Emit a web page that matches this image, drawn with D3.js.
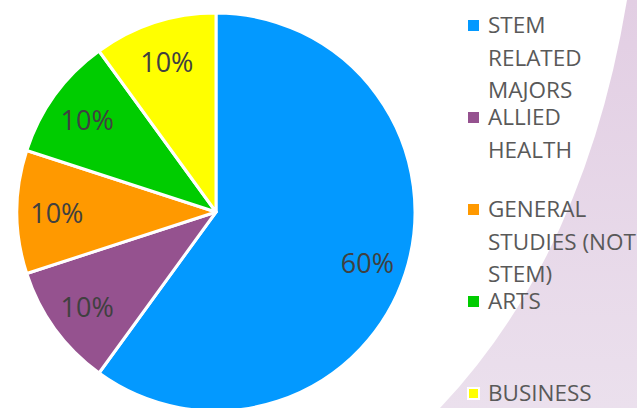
<!DOCTYPE html>
<html>
<head>
<meta charset="utf-8">
<script src="https://cdn.jsdelivr.net/npm/d3@7"></script>
<style>
  body { margin: 0; background: #fff; overflow: hidden; }
</style>
</head>
<body>
<script>
// data
var categories = ["STEM RELATED MAJORS", "ALLIED HEALTH", "GENERAL STUDIES (NOT STEM)", "ARTS", "BUSINESS"];
var values = [60, 10, 10, 10, 10];
var colours = ["#0399ff", "#95528f", "#ff9900", "#00cc00", "#ffff00"];
// legend lines as wrapped in the picture
var legendLines = [
    ["STEM", "RELATED", "MAJORS"],
    ["ALLIED", "HEALTH"],
    ["GENERAL", "STUDIES (NOT", "STEM)"],
    ["ARTS"],
    ["BUSINESS"]
];

var width = 637;
var height = 408;

var svg = d3.select("body")
    .append("svg")
    .attr("width", width)
    .attr("height", height);

// lavender backdrop swoosh
var grad = svg.append("defs").append("linearGradient")
    .attr("id", "bg")
    .attr("x1", 0).attr("y1", 0)
    .attr("x2", 0).attr("y2", 1);
grad.append("stop").attr("offset", "0%").attr("stop-color", "#e2cee3");
grad.append("stop").attr("offset", "100%").attr("stop-color", "#ebe0ed");

svg.append("path")
    .attr("d", "M627,0 Q585,255 440,408 L637,408 L637,0 Z")
    .attr("fill", "url(#bg)");

// pie
var cx = 216, cy = 212, radius = 199;

var pie = d3.pie().sort(null).value(function(d) { return d; });
var arcs = pie(values);

var arc = d3.arc().innerRadius(0).outerRadius(radius);
var labelArc = d3.arc().innerRadius(radius * 0.8).outerRadius(radius * 0.8);

var g = svg.append("g")
    .attr("transform", "translate(" + cx + "," + cy + ")");

g.selectAll(".slice")
    .data(arcs)
    .enter()
    .append("path")
    .attr("class", "slice")
    .attr("d", arc)
    .attr("fill", function(d, i) { return colours[i]; })
    .attr("stroke", "#fff")
    .attr("stroke-width", 3)
    .attr("stroke-linejoin", "round");

var total = d3.sum(values);

g.selectAll(".label")
    .data(arcs)
    .enter()
    .append("text")
    .attr("class", "label")
    .attr("transform", function(d) { return "translate(" + labelArc.centroid(d) + ")"; })
    .attr("text-anchor", "middle")
    .attr("dy", "0.42em")
    .style("font-family", "'Open Sans', sans-serif")
    .style("font-size", "27px")
    .style("fill", "#404040")
    .text(function(d) { return Math.round(d.value / total * 100) + "%"; });

// legend
var legend = svg.selectAll(".legend")
    .data(categories)
    .enter()
    .append("g")
    .attr("class", "legend")
    .attr("transform", function(d, i) { return "translate(468," + (25 + i * 92) + ")"; });

legend.append("rect")
    .attr("x", 0)
    .attr("y", -5)
    .attr("width", 11)
    .attr("height", 11)
    .attr("fill", function(d, i) { return colours[i]; })
    .attr("stroke", function(d, i) { return i === 4 ? "#fff" : "none"; })
    .attr("stroke-width", 2);

legend.append("text")
    .attr("x", 20)
    .attr("y", 8)
    .style("font-family", "'Open Sans', sans-serif")
    .style("font-size", "22.5px")
    .style("fill", "#595959")
    .selectAll("tspan")
    .data(function(d, i) { return legendLines[i]; })
    .enter()
    .append("tspan")
    .attr("x", 20)
    .attr("dy", function(d, j) { return j === 0 ? 0 : 32.5; })
    .text(function(d) { return d; });
</script>
</body>
</html>
